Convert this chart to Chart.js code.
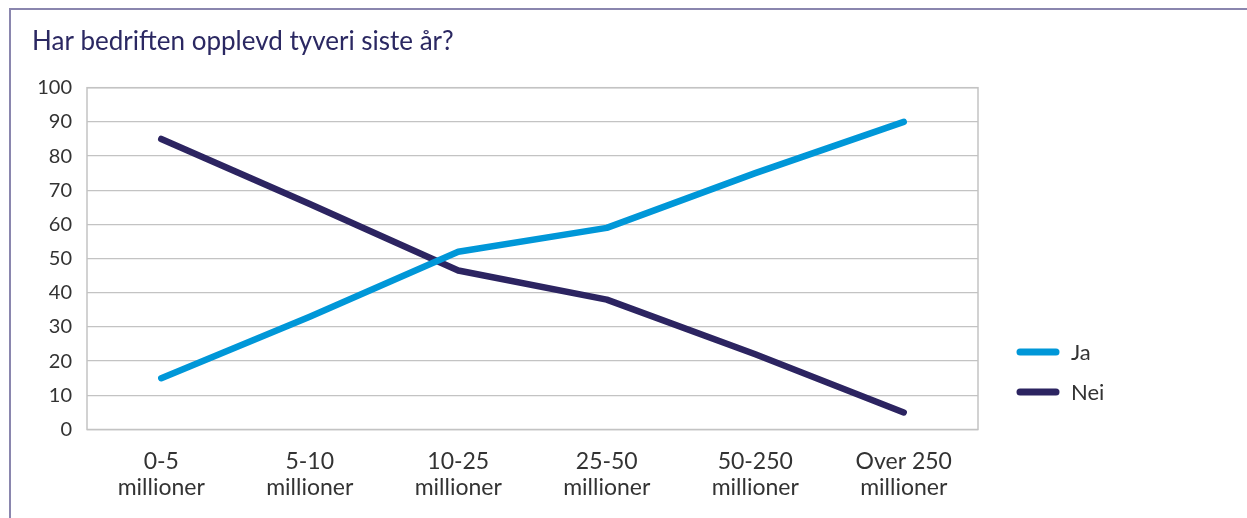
<!DOCTYPE html>
<html>
<head>
<meta charset="utf-8">
<script src="https://cdn.jsdelivr.net/npm/chart.js@4"></script>
<style>
  html, body { margin: 0; padding: 0; background: #ffffff; }
  #wrap { position: relative; width: 1247px; height: 518px; overflow: hidden; }
  #frame { position: absolute; left: 9px; top: 8px; right: -5px; bottom: -5px;
           border-top: 2px solid #8a86ae; border-left: 2px solid #8a86ae; pointer-events: none; }
  canvas { position: absolute; left: 0; top: 0; }
</style>
</head>
<body>
<div id="wrap">
  <canvas id="c" width="1247" height="518"></canvas>
  <div id="frame"></div>
</div>
<script>
const titleText = "Har bedriften opplevd tyveri siste år?";
const categories = [
  ["0-5", "millioner"],
  ["5-10", "millioner"],
  ["10-25", "millioner"],
  ["25-50", "millioner"],
  ["50-250", "millioner"],
  ["Over 250", "millioner"]
];
const seriesNames = ["Ja", "Nei"];
const jaValues = [15, 33, 52, 59, 75, 90];
const neiValues = [85, 66, 46.5, 38, 22, 5];
const yTicks = [0, 10, 20, 30, 40, 50, 60, 70, 80, 90, 100];

const colors = { Ja: "#0097d8", Nei: "#2c2461" };
const labelColor = "#333333";
const gridColor = "#c3c3c3";

const borderPlugin = {
  id: "areaBorder",
  beforeDatasetsDraw(chart) {
    const a = chart.chartArea, ctx = chart.ctx;
    ctx.save();
    ctx.strokeStyle = gridColor;
    ctx.lineWidth = 1.5;
    ctx.strokeRect(a.left, a.top, a.right - a.left, a.bottom - a.top);
    ctx.restore();
  }
};

const legendPlugin = {
  id: "sideLegend",
  afterDraw(chart) {
    const a = chart.chartArea, ctx = chart.ctx;
    const offsets = [77.5, 37.5];
    ctx.save();
    chart.data.datasets.forEach((ds, i) => {
      const y = a.bottom - offsets[i];
      const x0 = a.right + 39;
      ctx.strokeStyle = ds.borderColor;
      ctx.lineWidth = 7;
      ctx.lineCap = "round";
      ctx.beginPath();
      ctx.moveTo(x0 + 3, y);
      ctx.lineTo(x0 + 39, y);
      ctx.stroke();
      ctx.fillStyle = labelColor;
      ctx.font = "22px Lato";
      ctx.textBaseline = "middle";
      ctx.textAlign = "left";
      ctx.fillText(ds.label, x0 + 54, y + 1);
    });
    ctx.restore();
  }
};

new Chart(document.getElementById("c"), {
  type: "line",
  data: {
    labels: categories,
    datasets: [
      { label: seriesNames[0], data: jaValues, borderColor: colors.Ja, backgroundColor: colors.Ja },
      { label: seriesNames[1], data: neiValues, borderColor: colors.Nei, backgroundColor: colors.Nei }
    ]
  },
  options: {
    responsive: false,
    animation: false,
    devicePixelRatio: 1,
    elements: {
      line: { borderWidth: 6.5, borderCapStyle: "round", borderJoinStyle: "round", tension: 0 },
      point: { radius: 0, hoverRadius: 0 }
    },
    layout: { padding: { left: 32, right: 269, top: 0, bottom: 0 } },
    plugins: {
      legend: { display: false },
      tooltip: { enabled: false },
      title: {
        display: true,
        text: titleText,
        align: "start",
        color: "#2b2862",
        font: { family: "Lato", size: 26, weight: "normal" },
        padding: { top: 26, bottom: 30.5 }
      }
    },
    scales: {
      x: {
        offset: true,
        afterFit(scale) { scale.height = 88.5; },
        grid: { display: false, drawTicks: false },
        border: { display: false },
        ticks: {
          color: labelColor,
          font: { family: "Lato", size: 23, lineHeight: 1.09 },
          padding: 20,
          maxRotation: 0,
          autoSkip: false
        }
      },
      y: {
        min: 0,
        max: 100,
        afterFit(scale) { scale.width = 87 - 32; },
        afterBuildTicks(scale) { scale.ticks = yTicks.map(v => ({ value: v })); },
        grid: { color: gridColor, lineWidth: 1.3, drawTicks: false },
        border: { display: false },
        ticks: {
          color: labelColor,
          font: { family: "Lato", size: 20 },
          padding: 15
        }
      }
    }
  },
  plugins: [borderPlugin, legendPlugin]
});
</script>
</body>
</html>
